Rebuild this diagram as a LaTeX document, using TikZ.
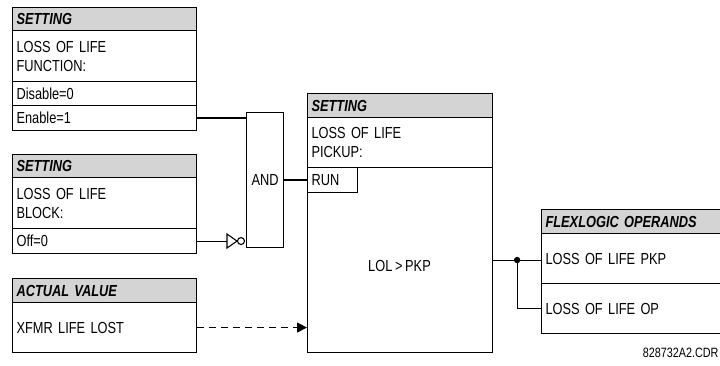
\documentclass[tikz,border=0pt]{standalone}
\usepackage{fontspec}
\setmainfont{Liberation Sans}[FakeStretch=0.8,WordSpace=0.75]
\usetikzlibrary{arrows.meta,calc,positioning}
\definecolor{HeadGray}{HTML}{D4D4D4}
\newcommand{\hdrtxt}[1]{\textbf{\textit{#1}}}

\begin{document}
\begin{tikzpicture}[x=1pt,y=-1pt,line width=1.1pt,
    box/.style={draw,anchor=north west,inner xsep=4pt,inner ysep=0pt,
      align=left,font=\fontsize{16}{19}\selectfont},
    hdr/.style={box,fill=HeadGray}]
  \useasboundingbox (0,0) rectangle (720,366);
  % loss of life function setting
  \node[hdr,text width=176,minimum height=23] (funH) at (12,7) {\hdrtxt{SETTING}};
  \node[box,text width=176,minimum height=51] (funB) at (12,30) {LOSS OF LIFE\\FUNCTION:};
  \node[box,text width=176,minimum height=24] (dis) at (12,81) {Disable=0};
  \node[box,text width=176,minimum height=25] (ena) at (12,105) {Enable=1};
  % block setting
  \node[hdr,text width=176,minimum height=23] (blkH) at (12,154) {\hdrtxt{SETTING}};
  \node[box,text width=176,minimum height=51] (blkB) at (12,177) {LOSS OF LIFE\\BLOCK:};
  \node[box,text width=176,minimum height=25] (off) at (12,228) {Off=0};
  % actual value
  \node[hdr,text width=176,minimum height=24] (actH) at (12,278) {\hdrtxt{ACTUAL VALUE}};
  \node[box,text width=176,minimum height=50] (act) at (12,302) {XFMR LIFE LOST};
  % and gate
  \node[box,inner xsep=0pt,minimum width=37,minimum height=135,align=center] (and) at (246,112) {AND};
  % pickup element
  \node[hdr,text width=177,minimum height=24] (pkH) at (307,93) {\hdrtxt{SETTING}};
  \node[box,text width=177,minimum height=50] (pkB) at (307,117) {LOSS OF LIFE\\PICKUP:};
  \node[box,text width=177,minimum height=185] (main) at (307,167) {};
  \node[box,text width=42,minimum height=25] (run) at (307,167) {RUN};
  \node[font=\fontsize{16}{19}\selectfont] (lol) at (399.5,266) {LOL > PKP};
  % operands
  \node[hdr,text width=172,minimum height=24] (flxH) at (541,209) {\hdrtxt{FLEXLOGIC OPERANDS}};
  \node[box,text width=172,minimum height=50] (pkp) at (541,233) {LOSS OF LIFE PKP};
  \node[box,text width=172,minimum height=50] (op) at (541,283) {LOSS OF LIFE OP};
  \node[anchor=east,inner sep=0pt,font=\fontsize{13.5}{15}\selectfont] (cdr) at (719,353) {828732A2.CDR};

  % connections
  \draw (ena.east) -- (ena.east -| and.west);
  \coordinate (nin) at ($(and.west |- off.east)+(-19,0)$);
  \draw (off.east) -- (nin);
  \draw (nin) ++(0,-7) -- ++(10,7) -- ++(-10,7) -- cycle;
  \node[draw,circle,inner sep=0pt,minimum size=7pt] (bub) at ($(nin)+(14,0)$) {};
  \draw (and.east) -- (and.east -| run.west);
  \draw[dash pattern=on 7pt off 5pt,-{Triangle[length=10pt,width=10pt]}] (act.east) -- (act.east -| main.west);
  \coordinate (dot) at ($(main.east)+(24,0)$);
  \draw (main.east) -- (main.east -| pkp.west);
  \draw (dot) |- (op.west);
  \fill (dot) circle (3.2pt);
\end{tikzpicture}
\end{document}
